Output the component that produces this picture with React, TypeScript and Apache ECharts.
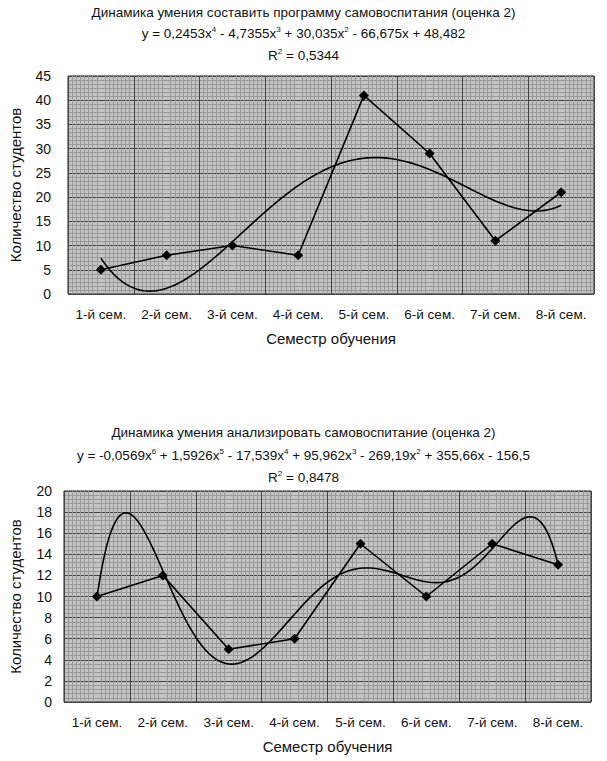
import React, { useEffect, useRef } from "react";
import * as echarts from "echarts";

const categories = ["1-й сем.", "2-й сем.", "3-й сем.", "4-й сем.", "5-й сем.", "6-й сем.", "7-й сем.", "8-й сем."];
const topValues = [5, 8, 10, 8, 41, 29, 11, 21];
const bottomValues = [10, 12, 5, 6, 15, 10, 15, 13];
const topTrendDegree = 4;
const bottomTrendDegree = 6;
const topTitle = "Динамика умения составить программу самовоспитания (оценка 2)";
const topEquation = "y = 0,2453x{s|4} - 4,7355x{s|3} + 30,035x{s|2} - 66,675x + 48,482";
const topR2 = "R{s|2} = 0,5344";
const bottomTitle = "Динамика умения анализировать самовоспитание (оценка 2)";
const bottomEquation = "y = -0,0569x{s|6} + 1,5926x{s|5} - 17,539x{s|4} + 95,962x{s|3} - 269,19x{s|2} + 355,66x - 156,5";
const bottomR2 = "R{s|2} = 0,8478";
const yName = "Количество студентов";
const xName = "Семестр обучения";

const FONT = "'Liberation Sans', Arial, sans-serif";

// Polynomial least-squares trendline (as the spreadsheet computes it) of the data
function polyTrend(values: number[], degree: number) {
  const n = values.length;
  const c = (n + 1) / 2;
  const m = degree + 1;
  const A: number[][] = [];
  for (let i = 0; i < m; i++) {
    const row: number[] = [];
    for (let j = 0; j < m; j++) {
      let s = 0;
      for (let k = 0; k < n; k++) s += Math.pow(k + 1 - c, i + j);
      row.push(s);
    }
    let r = 0;
    for (let k = 0; k < n; k++) r += values[k] * Math.pow(k + 1 - c, i);
    row.push(r);
    A.push(row);
  }
  for (let i = 0; i < m; i++) {
    let p = i;
    for (let r = i + 1; r < m; r++) if (Math.abs(A[r][i]) > Math.abs(A[p][i])) p = r;
    [A[i], A[p]] = [A[p], A[i]];
    for (let r = 0; r < m; r++) {
      if (r === i) continue;
      const f = A[r][i] / A[i][i];
      for (let j = i; j <= m; j++) A[r][j] -= f * A[i][j];
    }
  }
  const coef = A.map((row, i) => row[m] / row[i]);
  const pts: number[][] = [];
  for (let i = 0; i <= 140; i++) {
    const x = 1 + (i * (n - 1)) / 140;
    let y = 0;
    for (let k = 0; k < m; k++) y += coef[k] * Math.pow(x - c, k);
    pts.push([x, y]);
  }
  return pts;
}

export default function App() {
  const ref = useRef<HTMLDivElement>(null);
  useEffect(() => {
    const chart = echarts.init(ref.current!, null, { renderer: "svg" });
    const rich = { s: { fontSize: 8, verticalAlign: "top", lineHeight: 8, fontFamily: FONT, fill: "#111", color: "#111" } };
    const textEl = (text: string, y: number) => ({
      type: "text",
      left: "center",
      top: y,
      style: { text, fontSize: 13.5, fontFamily: FONT, fill: "#111", rich, lineHeight: 16 },
    });
    const catAxis = (gridIndex: number) => ({
      type: "category",
      gridIndex,
      data: categories,
      boundaryGap: true,
      axisLine: { show: false },
      axisTick: { show: false, interval: 0 },
      axisLabel: { color: "#111", fontSize: 13.5, fontFamily: FONT, margin: 13, interval: 0 },
      splitLine: { show: true, interval: 0, lineStyle: { color: "#444", width: 1 } },
      name: xName,
      nameLocation: "middle",
      nameGap: 37,
      nameTextStyle: { color: "#111", fontSize: 15, fontFamily: FONT },
    });
    const valX = (gridIndex: number) => ({
      type: "value",
      gridIndex,
      min: 0.5,
      max: 8.5,
      interval: 0.5,
      axisLine: { show: false },
      axisTick: { show: false },
      axisLabel: { show: false },
      splitLine: { show: false },
      minorTick: { show: false, splitNumber: 8 },
      minorSplitLine: { show: true, lineStyle: { color: "#9a9a9a", width: 1 } },
    });
    const valY = (gridIndex: number, max: number, interval: number, minorN: number, margin: number, nameGap: number) => ({
      type: "value",
      gridIndex,
      min: 0,
      max,
      interval,
      axisLine: { show: false },
      axisTick: { show: false },
      axisLabel: { color: "#111", fontSize: 14, fontFamily: FONT, margin },
      splitLine: { show: true, lineStyle: { color: "#444", width: 1 } },
      minorTick: { show: false, splitNumber: minorN },
      minorSplitLine: { show: true, lineStyle: { color: "#9a9a9a", width: 1 } },
      name: yName,
      nameLocation: "middle",
      nameRotate: 90,
      nameGap,
      nameTextStyle: { color: "#111", fontSize: 15, fontFamily: FONT },
    });
    const dataSeries = (idx: number, values: number[]) => ({
      type: "line",
      xAxisIndex: idx * 2,
      yAxisIndex: idx,
      data: values,
      symbol: "diamond",
      symbolSize: 10,
      lineStyle: { color: "#000", width: 1.6 },
      itemStyle: { color: "#000" },
      z: 3,
    });
    const trendSeries = (idx: number, values: number[], degree: number) => ({
      type: "line",
      xAxisIndex: idx * 2 + 1,
      yAxisIndex: idx,
      data: polyTrend(values, degree),
      showSymbol: false,
      symbol: "none",
      lineStyle: { color: "#000", width: 1.6 },
      z: 2,
    });
    chart.setOption({
      animation: false,
      backgroundColor: "#fff",
      textStyle: { fontFamily: FONT },
      grid: [
        { left: 62, top: 76, right: 13, height: 218, show: true, backgroundColor: "#c4c4c4", borderColor: "#222", borderWidth: 1 },
        { left: 60, top: 491, right: 16, height: 211, show: true, backgroundColor: "#c4c4c4", borderColor: "#222", borderWidth: 1 },
      ],
      xAxis: [catAxis(0), valX(0), catAxis(1), valX(1)],
      yAxis: [valY(0, 45, 5, 6, 17, 45), valY(1, 20, 2, 5, 12, 41)],
      series: [
        dataSeries(0, topValues),
        trendSeries(0, topValues, topTrendDegree),
        dataSeries(1, bottomValues),
        trendSeries(1, bottomValues, bottomTrendDegree),
      ],
      graphic: [
        textEl(topTitle, 4),
        textEl(topEquation, 25),
        textEl(topR2, 47),
        textEl(bottomTitle, 424),
        textEl(bottomEquation, 447),
        textEl(bottomR2, 469),
      ],
    });
    return () => chart.dispose();
  }, []);
  return <div ref={ref} style={{ position: "absolute", left: 0, top: 0, width: 607, height: 761 }} />;
}
